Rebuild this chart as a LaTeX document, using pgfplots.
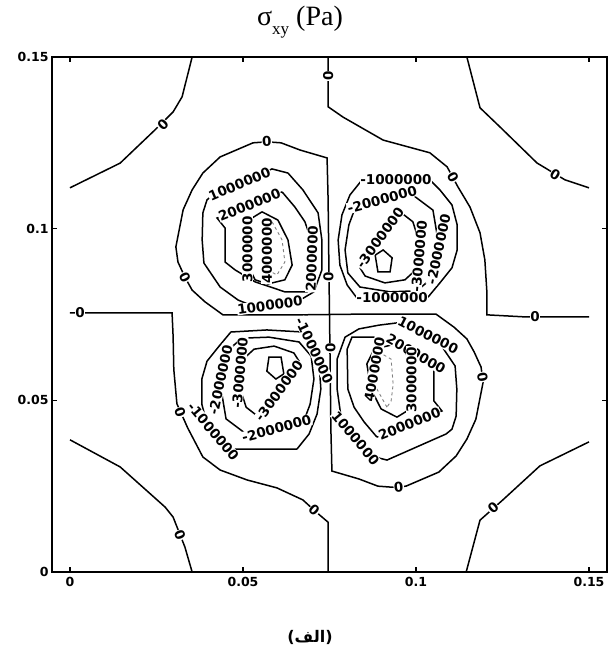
\documentclass[border=0pt]{standalone}
\usepackage{fontspec}
\usepackage{pgfplots}
\pgfplotsset{compat=1.18}
\setmainfont{Liberation Serif}
\newfontfamily\djv{DejaVu Sans}
\newfontfamily\arabicfont[Script=Arabic]{DejaVu Sans}
\TeXXeTstate=1
\begin{document}
\begin{tikzpicture}
\useasboundingbox (-52pt,-87pt) rectangle (561pt,572pt);
\begin{axis}[
 at={(0pt,0pt)}, anchor=south west,
 scale only axis, width=555pt, height=515pt,
 xmin=-0.0052, xmax=0.1552, ymin=0, ymax=0.15,
 xtick={0,0.05,0.1,0.15}, xticklabels={0,0.05,0.1,0.15},
 ytick={0,0.05,0.1,0.15}, yticklabels={0,0.05,0.1,0.15},
 tick align=inside, major tick length=5pt,
 ticklabel style={font=\djv\bfseries\fontsize{12.5}{14}\selectfont},
 xticklabel style={yshift=-2pt},
 axis line style={line width=2.2pt},
 tick style={line width=1.5pt, black},
 clip=false,
 cl/.style={line width=1.5pt, black},
 gl/.style={line width=0.9pt, gray, dashed},
]
% corner zero contours
\addplot[cl] coordinates {(0.0,0.1119)(0.0145,0.1191)(0.0246,0.1288)(0.0298,0.1340)(0.0324,0.1384)(0.0353,0.15)};
\addplot[cl] coordinates {(0.1147,0.15)(0.1185,0.1352)(0.1243,0.1296)(0.1350,0.1191)(0.1431,0.1142)(0.15,0.1119)};
\addplot[cl] coordinates {(0,0.0385)(0.0145,0.0306)(0.0275,0.0189)(0.0298,0.016)(0.0332,0.0073)(0.0353,0)};
\addplot[cl] coordinates {(0.1145,0)(0.1185,0.0151)(0.1251,0.0210)(0.1358,0.0309)(0.15,0.0379)};
% staircase zero contours
\addplot[cl] coordinates {(0.0746,0.15)(0.0746,0.1355)(0.0789,0.1325)(0.0905,0.1258)(0.1040,0.1221)(0.1090,0.1180)(0.1121,0.1122)(0.1156,0.1063)(0.1185,0.0988)(0.1199,0.0909)(0.1205,0.0813)(0.1205,0.0749)(0.1315,0.0743)(0.15,0.0743)};
\addplot[cl] coordinates {(0,0.0755)(0.0295,0.0755)(0.0298,0.0687)(0.0300,0.0590)(0.0309,0.0490)(0.0340,0.0420)(0.0384,0.0335)(0.0434,0.0297)(0.0512,0.0268)(0.0598,0.0245)(0.0673,0.0210)(0.0711,0.0175)(0.0746,0.0145)(0.0746,0)};
% zero loops through the centre
\addplot[cl] coordinates {(0.0750,0.0750)(0.0665,0.0749)(0.0520,0.0749)(0.0442,0.0749)(0.0390,0.0787)(0.0353,0.0821)(0.0332,0.0859)(0.0312,0.0903)(0.0306,0.0947)(0.0327,0.1055)(0.0353,0.1113)(0.0384,0.1162)(0.0434,0.1209)(0.0529,0.1250)(0.0569,0.1253)(0.0610,0.1250)(0.0665,0.1229)(0.0743,0.1206)(0.0746,0.1084)(0.0748,0.0909)(0.0750,0.0750)};
\addplot[cl] coordinates {(0.0750,0.0750)(0.0835,0.0751)(0.0980,0.0751)(0.1058,0.0751)(0.1110,0.0713)(0.1147,0.0679)(0.1168,0.0641)(0.1188,0.0597)(0.1194,0.0553)(0.1173,0.0445)(0.1147,0.0387)(0.1116,0.0338)(0.1066,0.0291)(0.0971,0.0250)(0.0931,0.0247)(0.0890,0.0250)(0.0835,0.0271)(0.0757,0.0294)(0.0754,0.0416)(0.0752,0.0591)(0.0750,0.0750)};
% top-left lobe (positive)
\addplot[cl] coordinates {(0.0584,0.1174)(0.0630,0.1162)(0.0673,0.1113)(0.0717,0.1046)(0.0728,0.0967)(0.0728,0.0880)(0.0705,0.0816)(0.0665,0.0792)(0.0607,0.0781)(0.0535,0.0772)(0.0486,0.0792)(0.0434,0.0830)(0.0387,0.0900)(0.0382,0.0967)(0.0384,0.1046)(0.0396,0.1084)(0.0413,0.1098)(0.0584,0.1174)};
\addplot[cl] coordinates {(0.0613,0.1107)(0.0650,0.1063)(0.0679,0.1020)(0.0697,0.0967)(0.0699,0.0851)(0.0685,0.0816)(0.0621,0.0816)(0.0535,0.0845)(0.0477,0.0880)(0.0448,0.0903)(0.0448,0.1002)(0.0425,0.1031)(0.0613,0.1107)};
\addplot[cl] coordinates {(0.0555,0.1049)(0.0601,0.1025)(0.0630,0.0967)(0.0642,0.0894)(0.0621,0.0851)(0.0572,0.0839)(0.0535,0.0851)(0.0514,0.0894)(0.0512,0.0982)(0.0526,0.1031)(0.0555,0.1049)};
\addplot[gl] coordinates {(0.0584,0.1020)(0.0613,0.0967)(0.0621,0.0903)(0.0598,0.0865)(0.0572,0.0880)(0.0566,0.0953)(0.0572,0.1002)(0.0584,0.1020)};
% bottom-right lobe (positive)
\addplot[cl] coordinates {(0.0916,0.0326)(0.0870,0.0338)(0.0827,0.0387)(0.0783,0.0454)(0.0772,0.0533)(0.0772,0.0620)(0.0795,0.0684)(0.0835,0.0708)(0.0893,0.0719)(0.0965,0.0728)(0.1014,0.0708)(0.1066,0.0670)(0.1113,0.0600)(0.1118,0.0533)(0.1116,0.0454)(0.1104,0.0416)(0.1087,0.0402)(0.0916,0.0326)};
\addplot[cl] coordinates {(0.0887,0.0393)(0.0850,0.0437)(0.0821,0.0480)(0.0803,0.0533)(0.0801,0.0649)(0.0815,0.0684)(0.0879,0.0684)(0.0965,0.0655)(0.1023,0.0620)(0.1052,0.0597)(0.1052,0.0498)(0.1075,0.0469)(0.0887,0.0393)};
\addplot[cl] coordinates {(0.0945,0.0451)(0.0899,0.0475)(0.0870,0.0533)(0.0858,0.0606)(0.0879,0.0649)(0.0928,0.0661)(0.0965,0.0649)(0.0986,0.0606)(0.0988,0.0518)(0.0974,0.0469)(0.0945,0.0451)};
\addplot[gl] coordinates {(0.0916,0.0480)(0.0887,0.0533)(0.0879,0.0597)(0.0902,0.0635)(0.0928,0.0620)(0.0934,0.0547)(0.0928,0.0498)(0.0916,0.0480)};
% top-right lobe (negative)
\addplot[cl] coordinates {(0.0844,0.1142)(0.0809,0.1098)(0.0786,0.1040)(0.0775,0.0967)(0.0780,0.0894)(0.0801,0.0836)(0.0827,0.0801)(0.0931,0.0795)(0.1035,0.0801)(0.1069,0.0842)(0.1104,0.0886)(0.1119,0.0938)(0.1119,0.1011)(0.1104,0.1069)(0.1069,0.1113)(0.1040,0.1142)(0.0844,0.1142)};
\addplot[cl] coordinates {(0.0983,0.1104)(0.1049,0.1054)(0.1061,0.0982)(0.1069,0.0903)(0.1040,0.0851)(0.1003,0.0819)(0.0925,0.0816)(0.0838,0.0830)(0.0803,0.0871)(0.0795,0.0938)(0.0806,0.1011)(0.0824,0.1060)(0.0983,0.1104)};
\addplot[cl] coordinates {(0.0954,0.1049)(0.0991,0.1020)(0.1012,0.0953)(0.1006,0.0886)(0.0968,0.0851)(0.0910,0.0842)(0.0853,0.0862)(0.0838,0.0886)(0.0896,0.0973)(0.0954,0.1049)};
\addplot[cl] coordinates {(0.0882,0.0923)(0.0905,0.0938)(0.0931,0.0915)(0.0925,0.0874)(0.0890,0.0874)(0.0882,0.0923)};
% bottom-left lobe (negative)
\addplot[cl] coordinates {(0.0656,0.0358)(0.0691,0.0402)(0.0714,0.0460)(0.0725,0.0533)(0.0720,0.0606)(0.0699,0.0664)(0.0673,0.0699)(0.0569,0.0705)(0.0465,0.0699)(0.0431,0.0658)(0.0396,0.0614)(0.0381,0.0562)(0.0381,0.0489)(0.0396,0.0431)(0.0431,0.0387)(0.0460,0.0358)(0.0656,0.0358)};
\addplot[cl] coordinates {(0.0517,0.0396)(0.0451,0.0446)(0.0439,0.0518)(0.0431,0.0597)(0.0460,0.0649)(0.0497,0.0681)(0.0575,0.0684)(0.0662,0.0670)(0.0697,0.0629)(0.0705,0.0562)(0.0694,0.0489)(0.0676,0.0440)(0.0517,0.0396)};
\addplot[cl] coordinates {(0.0546,0.0451)(0.0509,0.0480)(0.0488,0.0547)(0.0494,0.0614)(0.0532,0.0649)(0.0590,0.0658)(0.0647,0.0638)(0.0662,0.0614)(0.0604,0.0527)(0.0546,0.0451)};
\addplot[cl] coordinates {(0.0618,0.0577)(0.0595,0.0562)(0.0569,0.0585)(0.0575,0.0626)(0.0610,0.0626)(0.0618,0.0577)};
% contour labels
\addplot[draw=none, mark=none, nodes near coords, point meta=explicit symbolic,
  visualization depends on={value \thisrow{a}\as\ang},
  nodes near coords style={anchor=center, rotate=\ang, fill=white, inner sep=0.5pt, text=black,
    font=\djv\bfseries\fontsize{13.5}{13.5}\selectfont}]
 table[x=x, y=y, meta=t] {
x y t a
0.0269 0.1302 0 45
0.1402 0.1156 0 -31
0.0318 0.0108 0 -68
0.1223 0.0186 0 41
0.0746 0.1445 0 90
0.1107 0.1151 0 -61
0.1344 0.0743 0 0
0.0029 0.0755 0 0
0.0318 0.0465 0 -70
0.0706 0.0180 0 -42
0.0332 0.0859 0 -63
0.0569 0.1253 0 3
0.0747 0.0860 0 90
0.1192 0.0568 0 -80
0.0950 0.0248 0 5
0.0753 0.0652 0 90
0.0490 0.1130 1000000 23
0.0578 0.0777 1000000 8
0.0519 0.1069 2000000 22
0.0699 0.0912 2000000 88
0.0513 0.0940 3000000 90
0.0569 0.0935 4000000 90
0.0942 0.1142 -1000000 0
0.0931 0.0798 -1000000 0
0.0902 0.1085 -2000000 15
0.1065 0.0940 -2000000 78
0.0896 0.0973 -3000000 54
0.1009 0.0920 -3000000 85
0.0414 0.0409 -1000000 -50
0.0597 0.0418 -2000000 15
0.0604 0.0527 -3000000 54
0.0491 0.0580 -3000000 85
0.0435 0.0560 -2000000 78
0.0706 0.0645 -1000000 -65
0.1035 0.0690 1000000 -27
0.1000 0.0635 2000000 -30
0.0880 0.0590 4000000 80
0.0987 0.0560 3000000 90
0.0825 0.0390 1000000 -50
0.0981 0.0431 2000000 22
};
\end{axis}
\node[font=\fontsize{28}{32}\selectfont] at (248pt,550pt) {σ\raisebox{-0.3em}{\fontsize{17}{17}\selectfont xy}\ (Pa)};
\node[font=\djv\bfseries\fontsize{16}{19}\selectfont, inner sep=0pt] at (258pt,-65pt) {(\hbox{\arabicfont\bfseries\beginR الف\endR})};
\end{tikzpicture}
\end{document}
